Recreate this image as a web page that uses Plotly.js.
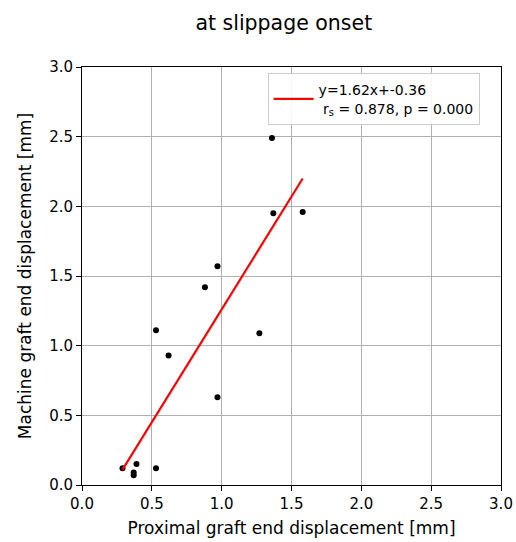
<!DOCTYPE html>
<html>
<head>
<meta charset="utf-8">
<script src="https://cdn.plot.ly/plotly-3.0.1.min.js"></script>
<style>html,body{margin:0;padding:0;background:#fff}</style>
</head>
<body>
<div id="chart" style="width:516px;height:542px"></div>
<script>
// Data
const proximal = [1.36, 1.37, 1.58, 0.97, 0.88, 0.53, 1.27, 0.62, 0.97, 0.29, 0.39, 0.37, 0.37, 0.53];
const machine  = [2.49, 1.95, 1.96, 1.57, 1.42, 1.11, 1.09, 0.93, 0.63, 0.12, 0.15, 0.09, 0.07, 0.12];
const slope = 1.62;
const intercept = -0.36;
const fitLabel = "y=1.62x+-0.36<br>&nbsp;r<sub>s</sub> = 0.878, p = 0.000";
const tickVals = [0, 0.5, 1.0, 1.5, 2.0, 2.5, 3.0];
const tickText = ["0.0", "0.5", "1.0", "1.5", "2.0", "2.5", "3.0"];

const xMin = Math.min(...proximal), xMax = Math.max(...proximal);
const lineX = [xMin, xMax];
const lineY = lineX.map(x => slope * x + intercept);

const font = {family: "DejaVu Sans, sans-serif", color: "#000"};

const traces = [
  {x: proximal, y: machine, mode: "markers", type: "scatter",
   marker: {color: "#000", size: 6}, showlegend: false, hoverinfo: "skip"},
  {x: lineX, y: lineY, mode: "lines", type: "scatter",
   line: {color: "#ff0000", width: 2.2}, name: fitLabel, showlegend: true}
];

const axisCommon = {
  range: [0, 3], tickvals: tickVals, ticktext: tickText,
  showgrid: true, gridcolor: "#b0b0b0", gridwidth: 1,
  showline: true, linecolor: "#000", linewidth: 1, mirror: true,
  ticks: "outside", ticklen: 5, tickcolor: "#000",
  zeroline: false, tickfont: {family: font.family, size: 15, color: "#000"}, fixedrange: true
};

const layout = {
  width: 516, height: 542,
  margin: {l: 82, r: 15, t: 67, b: 57},
  paper_bgcolor: "#fff", plot_bgcolor: "#fff",
  font: font,
  title: {text: "at slippage onset", x: 0.55, xanchor: "center", y: 0.958, yanchor: "middle",
          font: {family: font.family, size: 20.5, color: "#000"}},
  xaxis: Object.assign({}, axisCommon, {
    title: {text: "Proximal graft end displacement [mm]", standoff: 10,
            font: {family: font.family, size: 17, color: "#000"}}
  }),
  yaxis: Object.assign({}, axisCommon, {
    title: {text: "Machine graft end displacement [mm]", standoff: 13,
            font: {family: font.family, size: 17, color: "#000"}}
  }),
  showlegend: true,
  legend: {x: 0.443, y: 0.985, xanchor: "left", yanchor: "top",
           bgcolor: "rgba(255,255,255,0.9)", bordercolor: "#cccccc", borderwidth: 1,
           font: {family: font.family, size: 14, color: "#000"},
           itemwidth: 40, tracegroupgap: 0}
};

Plotly.newPlot("chart", traces, layout, {displayModeBar: false, staticPlot: true});
</script>
</body>
</html>
